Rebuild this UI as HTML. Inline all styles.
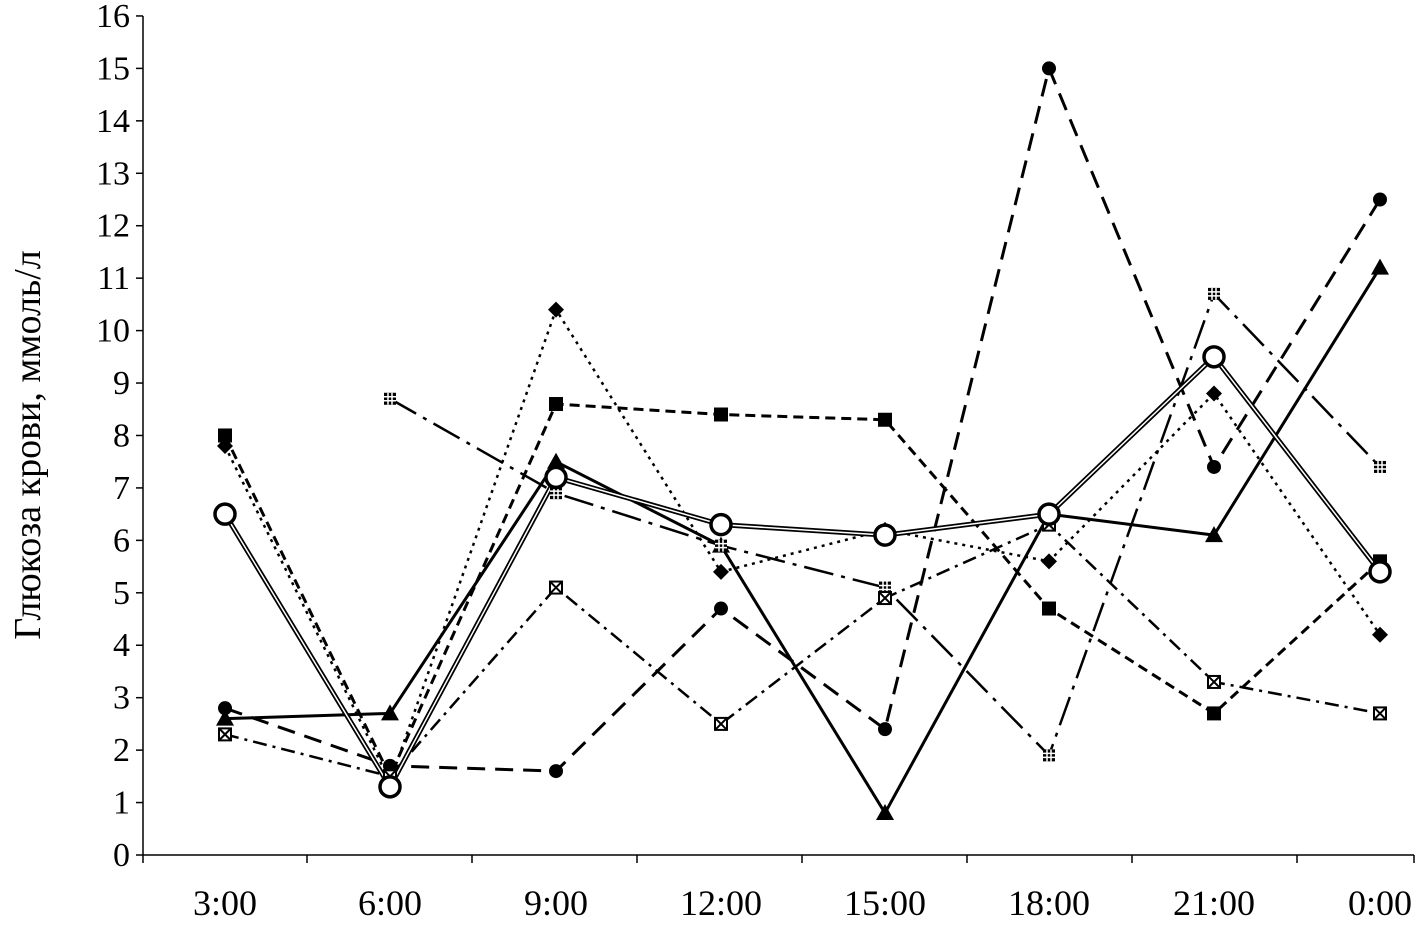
<!DOCTYPE html>
<html><head><meta charset="utf-8"><style>body{margin:0;background:#fff}svg{display:block}</style></head><body>
<svg width="1417" height="930" xmlns="http://www.w3.org/2000/svg" font-family="Liberation Serif, serif">
<defs>
<g id="sq"><rect x="-7" y="-7" width="14" height="14" fill="#000"/></g>
<g id="dm"><path d="M0,-8 L8,0 L0,8 L-8,0Z" fill="#000"/></g>
<g id="tr"><path d="M0,-9 L9,7 L-9,7Z" fill="#000"/></g>
<g id="ci"><circle r="7" fill="#000"/></g>
<g id="oc"><circle r="10" fill="#fff" stroke="#000" stroke-width="3.5"/></g>
<g id="xb"><rect x="-6" y="-6" width="12" height="12" fill="#fff" stroke="#000" stroke-width="2"/><path d="M-6,-6L6,6M6,-6L-6,6" stroke="#000" stroke-width="2"/></g>
<g id="hb"><rect x="-6" y="-6" width="12" height="12" fill="#000"/><path d="M-6,-2H6M-6,2H6M-2,-6V6M2,-6V6" stroke="#fff" stroke-width="1.5"/></g>
</defs>
<g stroke="#000" stroke-width="1.5">
<line x1="143" y1="16" x2="143" y2="855"/>
<line x1="143" y1="855" x2="1414" y2="855"/>
</g>
<g stroke="#000" stroke-width="1.5" id="ticks"></g>
<g font-size="34" text-anchor="end" id="ylab"></g>
<g font-size="36" text-anchor="middle" id="xlab"></g>
<text transform="translate(40,445) rotate(-90)" font-size="38" text-anchor="middle">Глюкоза крови, ммоль/л</text>
<g id="series"></g>
<script>
var NS="http://www.w3.org/2000/svg";
function Y(v){return 855-v*52.44}
var X=[225,390,556,721,885,1049,1214,1380];
var t=document.getElementById('ticks'),yl=document.getElementById('ylab'),xl=document.getElementById('xlab');
function el(n,a,p,txt){var e=document.createElementNS(NS,n);for(var k in a)e.setAttribute(k,a[k]);if(txt!=null)e.textContent=txt;p.appendChild(e);return e}
for(var i=0;i<=16;i++){el('line',{x1:136,x2:143,y1:Y(i),y2:Y(i)},t);el('text',{x:130,y:Y(i)+11},yl,i)}
[143,307,472,637,802,967,1132,1297,1414].forEach(function(x){el('line',{x1:x,x2:x,y1:855,y2:863},t)});
["3:00","6:00","9:00","12:00","15:00","18:00","21:00","0:00"].forEach(function(s,i){el('text',{x:X[i],y:915},xl,s)});
var S=document.getElementById('series');
var data=[
 {v:[2.8,1.7,1.6,4.7,2.4,15,7.4,12.5],d:"18,10",m:"ci",w:3},
 {v:[8.0,1.5,8.6,8.4,8.3,4.7,2.7,5.6],d:"10,6",m:"sq",w:3},
 {v:[7.8,1.4,10.4,5.4,6.2,5.6,8.8,4.2],d:"3,5",m:"dm",w:2.5},
 {v:[2.6,2.7,7.5,5.9,0.8,6.5,6.1,11.2],d:"",m:"tr",w:3},
 {v:[null,8.7,6.9,5.9,5.1,1.9,10.7,7.4],d:"30,8,4,8",m:"hb",w:2.5},
 {v:[2.3,1.5,5.1,2.5,4.9,6.3,3.3,2.7],d:"14,6,3,6",m:"xb",w:2.5},
];
data.forEach(function(s){var p=[];s.v.forEach(function(v,i){if(v!=null)p.push(X[i]+","+Y(v))});
 el('polyline',{points:p.join(" "),fill:"none",stroke:"#000","stroke-width":s.w,"stroke-dasharray":s.d},S)});
var oc=[6.5,1.3,7.2,6.3,6.1,6.5,9.5,5.4],p=oc.map(function(v,i){return X[i]+","+Y(v)}).join(" ");
el('polyline',{points:p,fill:"none",stroke:"#000","stroke-width":5},S);
el('polyline',{points:p,fill:"none",stroke:"#fff","stroke-width":1.5},S);
data.forEach(function(s){s.v.forEach(function(v,i){if(v!=null)el('use',{href:"#"+s.m,transform:"translate("+X[i]+","+Y(v)+")"},S)})});
oc.forEach(function(v,i){el('use',{href:"#oc",transform:"translate("+X[i]+","+Y(v)+")"},S)});
</script>
</svg>
</body></html>
